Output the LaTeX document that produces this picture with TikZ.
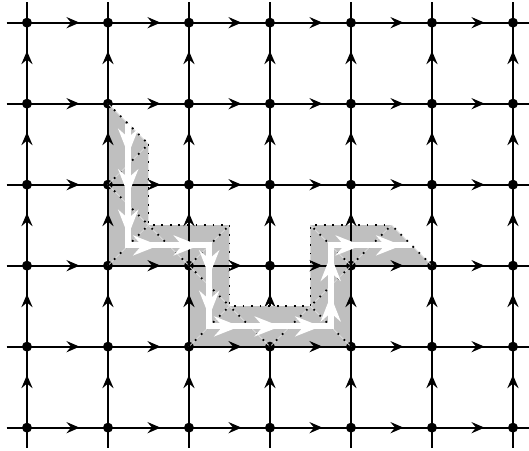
\documentclass[tikz,border=0pt]{standalone}
\usetikzlibrary{arrows.meta,decorations.markings}
\begin{document}
\definecolor{bandgray}{gray}{0.75}
\definecolor{siteline}{gray}{0.86}
\tikzset{
  grid line/.style={line width=0.75pt, black},
  lattice edge/.style={grid line, postaction={decorate},
    decoration={markings, mark=at position 0.65 with {\arrow{Stealth[length=4.6pt,width=3.9pt,inset=1.6pt]}}}},
  vdot/.style={circle, fill=black, inner sep=0pt, minimum size=3.5pt},
  ribbon/.style={fill=bandgray},
  dual edge/.style={line width=0.6pt, dash pattern=on 0.6pt off 2.4pt},
  site edge/.style={line width=0.6pt, dash pattern=on 0.6pt off 2.4pt},
  site shade/.style={siteline, line width=0.3pt},
  ribbon path/.style={white, line width=2.1pt, line join=miter, postaction={decorate},
    decoration={markings, mark=between positions 0.054 and 0.99 step 0.0714286 with {\arrow{Stealth[length=9pt,width=7pt,inset=3pt]}}}}
}
\begin{tikzpicture}
\useasboundingbox (-0.333,-0.288) rectangle (6.198,5.28);
% lattice vertices and face centres
\foreach \i in {0,...,6}{\foreach \j in {0,...,5}{\coordinate (v-\i-\j) at (\i,\j);}}
\foreach \i in {0,...,5}{\foreach \j in {0,...,4}{\coordinate (f-\i-\j) at (\i+0.5,\j+0.5);}}
\foreach \j in {0,...,5}{\coordinate (wl-\j) at (-0.25,\j); \coordinate (wr-\j) at (6.25,\j);}
\foreach \i in {0,...,6}{\coordinate (wb-\i) at (\i,-0.25); \coordinate (wt-\i) at (\i,5.25);}
% edge hidden under the ribbon
\draw[lattice edge] (v-3-1) -- (v-3-2);
% ribbon
\fill[ribbon] (v-1-4) -- (v-1-2) -- (v-2-2) -- (v-2-1) -- (v-4-1) -- (v-4-2) -- (v-5-2)
  -- (f-4-2) -- (f-3-2) -- (f-3-1) -- (f-2-1) -- (f-2-2) -- (f-1-2) -- (f-1-3) -- cycle;
% lattice
\foreach \j in {0,...,5}{
  \draw[grid line] (wl-\j) -- (v-0-\j);
  \draw[grid line] (v-6-\j) -- (wr-\j);
  \foreach \i [evaluate=\i as \n using int(\i+1)] in {0,...,5}{
    \draw[lattice edge] (v-\i-\j) -- (v-\n-\j);
  }
}
\foreach \i in {0,...,6}{
  \draw[grid line] (wb-\i) -- (v-\i-0);
  \draw[grid line] (v-\i-5) -- (wt-\i);
  \foreach \j [evaluate=\j as \m using int(\j+1)] in {0,...,4}{
    \ifnum\numexpr\i*10+\j\relax=31 \else
      \draw[lattice edge] (v-\i-\j) -- (v-\i-\m);
    \fi
  }
}
\foreach \i in {0,...,6}{\foreach \j in {0,...,5}{\node[vdot] (d-\i-\j) at (v-\i-\j) {};}}
% triangle sides of the ribbon
\foreach \a/\b in {v-1-4/f-1-3, v-1-3/f-1-3, v-1-3/f-1-2, v-1-2/f-1-2, v-2-2/f-1-2,
  v-2-2/f-2-2, v-2-2/f-2-1, v-2-1/f-2-1, v-3-1/f-2-1, v-3-1/f-3-1, v-4-1/f-3-1,
  v-4-2/f-3-1, v-4-2/f-3-2, v-4-2/f-4-2, v-5-2/f-4-2}{
  \draw[site shade] (\a) -- (\b);
  \draw[site edge] (\a) -- (\b);
}
\draw[dual edge] (f-1-3) -- (f-1-2) -- (f-2-2) -- (f-2-1) -- (f-3-1) -- (f-3-2) -- (f-4-2);
% ribbon path
\coordinate (r0) at (1.25,3.75);
\coordinate (r1) at (1.25,2.25);
\coordinate (r2) at (2.25,2.25);
\coordinate (r3) at (2.25,1.25);
\coordinate (r4) at (3.75,1.25);
\coordinate (r5) at (3.75,2.25);
\coordinate (r6) at (4.75,2.25);
\draw[ribbon path] (r0) -- (r1) -- (r2) -- (r3) -- (r4) -- (r5) -- (r6);
\end{tikzpicture}
\end{document}
